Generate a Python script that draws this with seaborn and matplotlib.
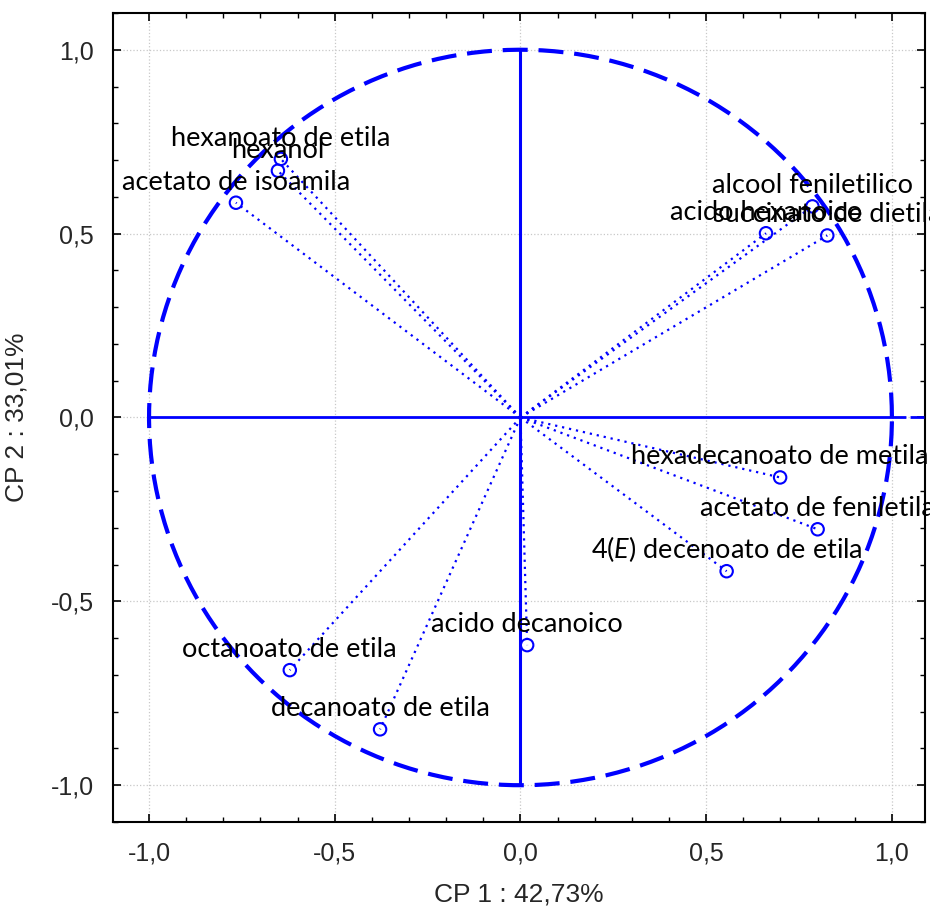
import numpy as np
import pandas as pd
import matplotlib
matplotlib.use("Agg")
import matplotlib.pyplot as plt
from matplotlib.ticker import MultipleLocator, FuncFormatter
import seaborn as sns

# ---- data ----
names = [
    "hexanoato de etila", "hexanol", "acetato de isoamila",
    "alcool feniletilico", "acido hexanoico", "succinato de dietila",
    "hexadecanoato de metila", "acetato de feniletila",
    r"4($\mathit{E}$) decenoato de etila",
    "octanoato de etila", "decanoato de etila", "acido decanoico",
]
cp1 = [-0.645, -0.653, -0.766, 0.786, 0.661, 0.826, 0.699, 0.800, 0.555, -0.621, -0.378, 0.018]
cp2 = [0.703, 0.671, 0.584, 0.574, 0.501, 0.495, -0.163, -0.304, -0.418, -0.687, -0.848, -0.619]
ticks = [-1.0, -0.5, 0.0, 0.5, 1.0]
xlabel = "CP 1 : 42,73%"
ylabel = "CP 2 : 33,01%"

df = pd.DataFrame({"name": names, "CP1": cp1, "CP2": cp2})

sns.set_theme(style="white")
plt.rcParams["font.family"] = ["Liberation Sans", "DejaVu Sans"]
plt.rcParams["mathtext.fontset"] = "custom"
plt.rcParams["mathtext.it"] = "Lato:italic"
plt.rcParams["mathtext.rm"] = "Lato"

BLUE = "#0000ff"

fig = plt.figure(figsize=(9.3, 9.06), dpi=100)
ax = fig.add_axes([0.1215, 0.0927, 0.9946 - 0.1215, 0.9857 - 0.0927])

# unit circle
th = np.linspace(0, 2 * np.pi, 400)
ax.plot(np.cos(th), np.sin(th), color=BLUE, lw=3, dashes=(6, 2.6), zorder=3)
# axes cross
ax.plot([-1, 1], [0, 0], color=BLUE, lw=2, zorder=3)
ax.plot([1, 1.1], [0, 0], color=BLUE, lw=2, dashes=(5, 1.5), zorder=3)
ax.plot([0, 0], [-1, 1], color=BLUE, lw=2.2, zorder=3)

# vectors from origin
for x, y in zip(df["CP1"], df["CP2"]):
    ax.plot([0, x], [0, y], color=BLUE, lw=1.6, ls=(0, (1, 2.2)), zorder=4)

sns.scatterplot(data=df, x="CP1", y="CP2", ax=ax, marker="o", s=80,
                facecolor="none", edgecolor=BLUE, linewidth=1.5, zorder=5)

for n, x, y in zip(df["name"], df["CP1"], df["CP2"]):
    ax.annotate(n, (x, y), xytext=(0, 9.5), textcoords="offset points",
                ha="center", va="baseline", fontsize=19.5, family="Lato",
                color="black", zorder=6, annotation_clip=False)

ax.set_xlim(-1.097, 1.089)
ax.set_ylim(-1.1, 1.1)
ax.xaxis.set_major_locator(MultipleLocator(0.5))
ax.yaxis.set_major_locator(MultipleLocator(0.5))
ax.xaxis.set_minor_locator(MultipleLocator(0.1))
ax.yaxis.set_minor_locator(MultipleLocator(0.1))
fmt = FuncFormatter(lambda v, p: f"{v:.1f}".replace(".", ",").replace("-0,0", "0,0"))
ax.xaxis.set_major_formatter(fmt)
ax.yaxis.set_major_formatter(fmt)
ax.tick_params(which="both", direction="in", top=True, right=True, bottom=True, left=True,
               color="black")
ax.tick_params(which="major", length=6, width=1.2, labelsize=18, pad=14)
ax.tick_params(which="minor", length=3.5, width=1.0)
ax.grid(True, which="major", color="#c8c8c8", ls=":", lw=0.9)
for s in ax.spines.values():
    s.set_color("black")
    s.set_linewidth(1.5)
ax.set_xlabel(xlabel, fontsize=19, labelpad=12)
ax.set_ylabel(ylabel, fontsize=19, labelpad=16)

fig.savefig("out.png", dpi=100)
